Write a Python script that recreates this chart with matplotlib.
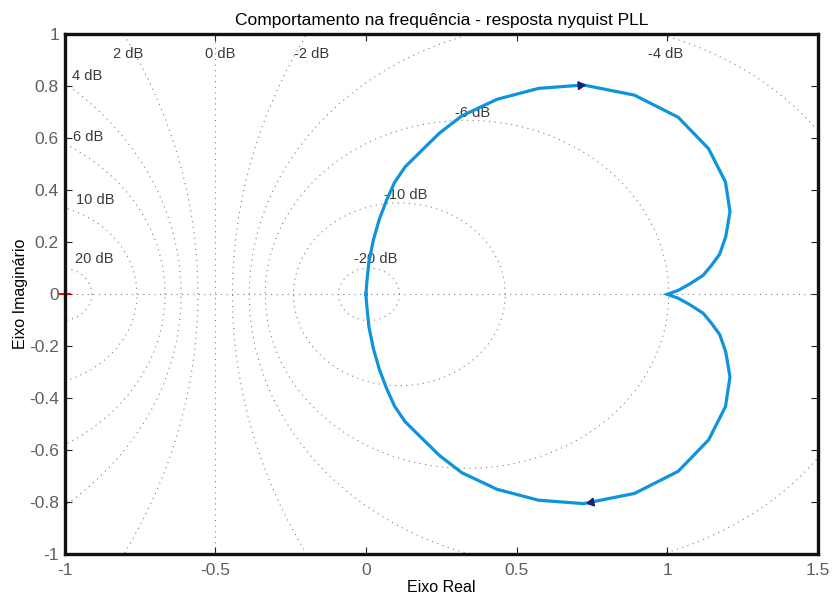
import numpy as np
import matplotlib
matplotlib.use("Agg")
import matplotlib.pyplot as plt

plt.rcParams['font.family'] = ['Liberation Sans', 'DejaVu Sans']
plt.rcParams['axes.unicode_minus'] = False

# Frequency response of the closed PLL loop, positive-frequency branch (w = 0 -> inf)
re_pos = [1.000, 1.036, 1.075, 1.119, 1.147, 1.174, 1.194, 1.208, 1.193, 1.137,
          1.036, 0.891, 0.722, 0.573, 0.435, 0.318, 0.244, 0.179, 0.130, 0.095,
          0.069, 0.045, 0.025, 0.010, 0.003, 0.000]
im_pos = [0.000, -0.015, -0.040, -0.073, -0.112, -0.155, -0.222, -0.318, -0.432, -0.560,
          -0.681, -0.766, -0.805, -0.792, -0.750, -0.686, -0.620, -0.546, -0.490, -0.430,
          -0.363, -0.290, -0.210, -0.125, -0.045, 0.000]

# M-circle levels (closed-loop magnitude, dB)
grid_db = [-20, -10, -6, -4, -2, 0, 2, 4, 6, 10, 20]
grid_labels = ["2 dB", "0 dB", "-2 dB", "-4 dB", "4 dB", "6 dB", "10 dB", "20 dB",
               "-20 dB", "-10 dB", "-6 dB"]
label_x = [-0.789, -0.484, -0.179, 0.995, -0.924, -0.922, -0.897, -0.900, 0.032, 0.133, 0.353]
label_y = [0.924, 0.924, 0.924, 0.924, 0.840, 0.605, 0.363, 0.135, 0.135, 0.382, 0.696]

xticks = [-1, -0.5, 0, 0.5, 1, 1.5]
xtick_labels = ["-1", "-0.5", "0", "0.5", "1", "1.5"]
yticks = [-1, -0.8, -0.6, -0.4, -0.2, 0, 0.2, 0.4, 0.6, 0.8, 1]
ytick_labels = ["-1", "-0.8", "-0.6", "-0.4", "-0.2", "0", "0.2", "0.4", "0.6", "0.8", "1"]

W, H = 840, 598
fig = plt.figure(figsize=(W / 100, H / 100), dpi=100)
x0, x1, y0, y1 = 64.5, 818.0, 34.3, 554.3
ax = fig.add_axes([x0 / W, (H - y1) / H, (x1 - x0) / W, (y1 - y0) / H])
ax.set_xlim(-1, 1.5)
ax.set_ylim(-1, 1)

grid_kw = dict(color='#808080', lw=0.8, ls=(0, (1, 4)), zorder=1)
t = np.linspace(0, 2 * np.pi, 1500)
for db in grid_db:
    m = 10 ** (db / 20)
    if abs(m - 1) < 1e-9:
        ax.plot([-0.5, -0.5], [-1, 1], **grid_kw)
        continue
    c = -m ** 2 / (m ** 2 - 1)
    r = abs(m / (m ** 2 - 1))
    ax.plot(c + r * np.cos(t), r * np.sin(t), **grid_kw)
ax.plot([-1, 1.5], [0, 0], **grid_kw)

for txt, lx, ly in zip(grid_labels, label_x, label_y):
    ax.text(lx, ly, txt, fontsize=10.5, color='#3a3a3a', ha='center', va='center', zorder=3)

re_pos = np.array(re_pos)
im_pos = np.array(im_pos)
# negative frequencies are the complex conjugate
re_full = np.concatenate([re_pos[::-1], re_pos[1:]])
im_full = np.concatenate([-im_pos[::-1], im_pos[1:]])
line_color = '#0f93da'
ax.plot(re_full, im_full, color=line_color, lw=2.3, zorder=4, solid_joinstyle='miter')

# direction arrows placed along the segments near the top and bottom of the loop
sx, sy = 301.5, 260.0
def arrow(xa, ya, xb, yb, frac):
    px = xa + frac * (xb - xa)
    py = ya + frac * (yb - ya)
    ang = np.degrees(np.arctan2((yb - ya) * sy, (xb - xa) * sx))
    ax.plot(px, py, marker=(3, 0, ang - 90), ms=6.5, color='#1b1f7a',
            mec='#1b1f7a', zorder=5, ls='none')

i = 12
arrow(re_pos[i - 1], im_pos[i - 1], re_pos[i], im_pos[i], 0.85)
arrow(re_pos[i + 1], -im_pos[i + 1], re_pos[i], -im_pos[i], 0.93)

ax.plot(-1, 0, marker='+', color='red', ms=8, mew=1.5, zorder=2, clip_on=False)

for s in ax.spines.values():
    s.set_linewidth(2.4)
    s.set_color('#111111')
    s.set_zorder(6)

ax.set_xticks(xticks)
ax.set_xticklabels(xtick_labels)
ax.set_yticks(yticks)
ax.set_yticklabels(ytick_labels)
ax.tick_params(direction='in', length=5, width=0.8, top=True, right=True,
               labelsize=12.5, labelcolor='#5f5f5f', color='#222222')
ax.tick_params(axis='x', pad=6)
ax.tick_params(axis='y', pad=4)

ax.set_title("Comportamento na frequência - resposta nyquist PLL", fontsize=12.5, pad=7)
ax.set_xlabel("Eixo Real", fontsize=11.5, labelpad=2)
ax.set_ylabel("Eixo Imaginário", fontsize=11.5, labelpad=1)

fig.savefig("out.png", dpi=100)
